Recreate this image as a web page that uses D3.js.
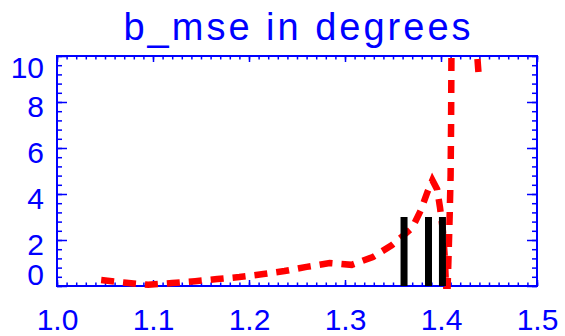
<!DOCTYPE html>
<html>
<head>
<meta charset="utf-8">
<script src="https://cdn.jsdelivr.net/npm/d3@7"></script>
<style>
  body { margin: 0; background: #ffffff; }
  text { font-family: "Liberation Sans", Arial, sans-serif; fill: #0000ff; }
</style>
</head>
<body>
<div id="chart"></div>
<script>
// Data

// red dashed curve (b_mse vs x)
const curveX = [1.046, 1.072, 1.095, 1.12, 1.144, 1.167, 1.19, 1.215, 1.237, 1.26, 1.284, 1.307,
  1.329, 1.349, 1.37, 1.379, 1.386, 1.391, 1.396, 1.399, 1.402, 1.404, 1.405, 1.4065,
  1.408, 1.409, 1.41, 1.4105, 1.411, 1.436, 1.439];
const curveY = [0.26, 0.14, 0.05, 0.13, 0.21, 0.3, 0.39, 0.52, 0.65, 0.83, 1.0, 0.92,
  1.26, 1.78, 2.52, 3.3, 4.1, 4.6, 4.2, 3.4, 2.4, 1.2, 0.2, -0.6,
  1.5, 3.0, 4.8, 7.0, 11, 11, 9.3];

// black vertical bars
const barX = [1.3615, 1.387, 1.4015];
const barY = [3, 3, 3];

// tick labels
const xTicks = [1.0, 1.1, 1.2, 1.3, 1.4, 1.5];
const yTicks = [0, 2, 4, 6, 8, 10];

const title = "b_mse in degrees";

// Layout
const W = 565, H = 336;
const margin = { top: 56, right: 28, bottom: 50, left: 57 };
const width = W - margin.left - margin.right;
const height = H - margin.top - margin.bottom;
const blue = "#0000ff";

const svg = d3.select("#chart")
  .append("svg")
  .attr("width", W)
  .attr("height", H);

svg.append("rect")
  .attr("width", W)
  .attr("height", H)
  .attr("fill", "#ffffff");

const g = svg.append("g")
  .attr("transform", `translate(${margin.left},${margin.top})`);

// Scales
const xScale = d3.scaleLinear().domain([1.0, 1.5]).range([0, width]);
const yScale = d3.scaleLinear().domain([0, 10]).range([height, 0]);

// Title
svg.append("text")
  .attr("x", margin.left + width / 2 + 1.5)
  .attr("y", 40)
  .attr("text-anchor", "middle")
  .style("font-size", "38px")
  .style("letter-spacing", "3px")
  .text(title);

// minor tick positions
const xMinor = d3.range(0, 51).map(i => 1.0 + i * 0.01);
const yMinor = d3.range(0, 26).map(i => i * 0.4);

function styleAxis(sel) {
  sel.select(".domain").remove();
  sel.selectAll("line").attr("stroke", blue).attr("stroke-width", 1.5);
  sel.selectAll("text").attr("fill", blue).style("font-size", "30px")
    .style("font-family", '"Liberation Sans", Arial, sans-serif');
}

// bottom axis: major ticks with labels
g.append("g")
  .attr("transform", `translate(0,${height})`)
  .call(d3.axisBottom(xScale).tickValues(xTicks).tickSize(-6).tickPadding(23)
    .tickFormat(d3.format(".1f")))
  .call(styleAxis);

g.append("g")
  .attr("transform", `translate(0,${height})`)
  .call(d3.axisBottom(xScale).tickValues(xMinor).tickSize(-3.5).tickFormat(""))
  .call(styleAxis);

// top axis ticks
g.append("g")
  .call(d3.axisTop(xScale).tickValues(xTicks).tickSize(-6).tickFormat(""))
  .call(styleAxis);

g.append("g")
  .call(d3.axisTop(xScale).tickValues(xMinor).tickSize(-3.5).tickFormat(""))
  .call(styleAxis);

// left axis: major ticks with labels
const yAxisG = g.append("g")
  .call(d3.axisLeft(yScale).tickValues(yTicks).tickSize(-10).tickPadding(13)
    .tickFormat(d3.format("d")))
  .call(styleAxis);

// the end labels sit inside the frame in the picture
yAxisG.selectAll("text")
  .attr("y", d => {
    const c = Math.min(Math.max(yScale(d) + 4, 11), height - 12);
    return c - yScale(d) + 1;
  });

g.append("g")
  .call(d3.axisLeft(yScale).tickValues(yMinor).tickSize(-5).tickFormat(""))
  .call(styleAxis);

// right axis ticks
g.append("g")
  .attr("transform", `translate(${width},0)`)
  .call(d3.axisRight(yScale).tickValues(yTicks).tickSize(-10).tickFormat(""))
  .call(styleAxis);

g.append("g")
  .attr("transform", `translate(${width},0)`)
  .call(d3.axisRight(yScale).tickValues(yMinor).tickSize(-5).tickFormat(""))
  .call(styleAxis);

// Frame
g.append("rect")
  .attr("x", 0)
  .attr("y", 0)
  .attr("width", width)
  .attr("height", height)
  .attr("fill", "none")
  .attr("stroke", blue)
  .attr("stroke-width", 2);

// Clip for the curve
svg.append("defs").append("clipPath")
  .attr("id", "plotclip")
  .append("rect")
  .attr("x", 0)
  .attr("y", -1)
  .attr("width", width)
  .attr("height", height + 4);

const curveData = curveX.map((x, i) => [x, curveY[i]]);

const line = d3.line()
  .x(d => xScale(d[0]))
  .y(d => yScale(d[1]));

g.append("path")
  .attr("clip-path", "url(#plotclip)")
  .attr("fill", "none")
  .attr("stroke", "#ff0000")
  .attr("stroke-width", 6.5)
  .attr("stroke-dasharray", "13,9")
  .attr("d", line(curveData));

// Black bars
g.selectAll(".bar")
  .data(barX.map((x, i) => [x, barY[i]]))
  .enter()
  .append("line")
  .attr("class", "bar")
  .attr("x1", d => xScale(d[0]))
  .attr("x2", d => xScale(d[0]))
  .attr("y1", yScale(0))
  .attr("y2", d => yScale(d[1]))
  .attr("stroke", "#000000")
  .attr("stroke-width", 7);
</script>
</body>
</html>
